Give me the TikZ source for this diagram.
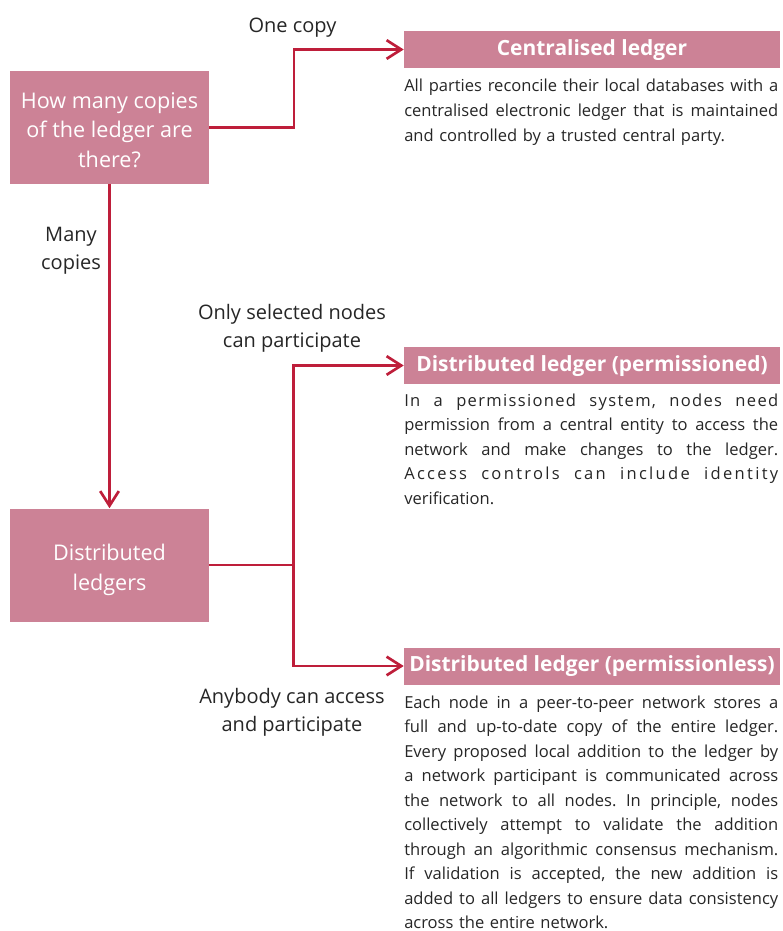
\documentclass[tikz,border=0pt]{standalone}
\usepackage{fontspec}
\setmainfont{Open Sans}
\usetikzlibrary{arrows.meta}
\definecolor{boxpink}{RGB}{204,130,150}
\definecolor{linkred}{RGB}{190,30,58}
\definecolor{inkgray}{RGB}{38,38,38}
\newlength\bodyw
\setlength\bodyw{280.5pt}
% one fully justified line of a description
\newcommand\jline[1]{\makebox[\bodyw][s]{\spaceskip=0pt\xspaceskip=0pt\relax #1}\\}
% a justified line that is also letter-spaced
\newcommand\sline[2]{\makebox[\bodyw][s]{\addfontfeature{LetterSpace=#1}\spaceskip=0pt\xspaceskip=0pt\relax #2}\\}
\frenchspacing
\tikzset{
  qbox/.style={fill=boxpink, minimum width=149.25pt, minimum height=84.75pt, inner sep=0pt},
  qtext/.style={text=white, inner sep=0pt, align=center, anchor=base,
    font=\fontsize{16.2}{22}\selectfont},
  headbox/.style={fill=boxpink, text=white, minimum width=282pt, minimum height=27.75pt,
    inner sep=0pt, text height=11.5pt, text depth=3.2pt,
    font=\bfseries\fontsize{15.7}{18}\selectfont},
  bodytext/.style={text=inkgray, inner sep=0pt, align=left, text width=\bodyw,
    font=\fontsize{12.4}{18.4}\selectfont, anchor=base west},
  lbl/.style={text=inkgray, align=center, inner sep=0pt, anchor=base,
    font=\fontsize{15}{20.5}\selectfont},
  link/.style={draw=linkred, line width=2.2pt},
  linkarrow/.style={link, -{Straight Barb[length=11pt, width=14pt, line width=2pt]}}
}
\begin{document}
\begin{tikzpicture}[x=0.75pt, y=-0.75pt]
\useasboundingbox (0,0) rectangle (782,931);

% question and category boxes
\node[qbox] (q) at (109.5,127.5) {};
\node[qtext] (qt) at (109.5,167) {How many copies\\of the ledger are\\there?};
\node[qbox] (d) at (109.5,565) {};
\node[qtext] (dt) at (109.5,590) {Distributed\\ledgers};

% outcome headers
\node[headbox] (c) at (592,49.5) {Centralised ledger};
\node[headbox] (p) at (592,365.5) {Distributed ledger (permissioned)};
\node[headbox] (u) at (592,666) {Distributed ledger (permissionless)};

% descriptions
\node[bodytext] (ct) at (404,92) {\jline{All parties reconcile their local databases with a}
\jline{centralised electronic ledger that is maintained}
and controlled by a trusted central party.};
\node[bodytext] (pt) at (404,406) {\sline{8}{In a permissioned system, nodes need}
\jline{permission from a central entity to access the}
\jline{network and make changes to the ledger.}
\sline{14}{Access controls can include identity}
verification.};
\node[bodytext] (ut) at (404,708) {\jline{Each node in a peer-to-peer network stores a}
\jline{full and up-to-date copy of the entire ledger.}
\jline{Every proposed local addition to the ledger by}
\jline{a network participant is communicated across}
\jline{the network to all nodes. In principle, nodes}
\jline{collectively attempt to validate the addition}
\jline{through an algorithmic consensus mechanism.}
\jline{If validation is accepted, the new addition is}
\jline{added to all ledgers to ensure data consistency}
across the entire network.};

% connectors
\coordinate (j) at (293.5,565);
\draw[linkarrow] (q.east) -| (294,49.5) -- (c.west);
\draw[linkarrow] (q.south) -- (d.north);
\draw[link] (d.east) -- (j);
\draw[linkarrow] (j) |- (p.west);
\draw[linkarrow] (j) |- (u.west);

% branch labels
\node[lbl] (l1) at (292.5,33) {One copy};
\node[lbl] (l2) at (71,269) {Many\\copies};
\node[lbl] (l3) at (292,347) {Only selected nodes\\can participate};
\node[lbl] (l4) at (292,731) {Anybody can access\\and participate};
\end{tikzpicture}
\end{document}
